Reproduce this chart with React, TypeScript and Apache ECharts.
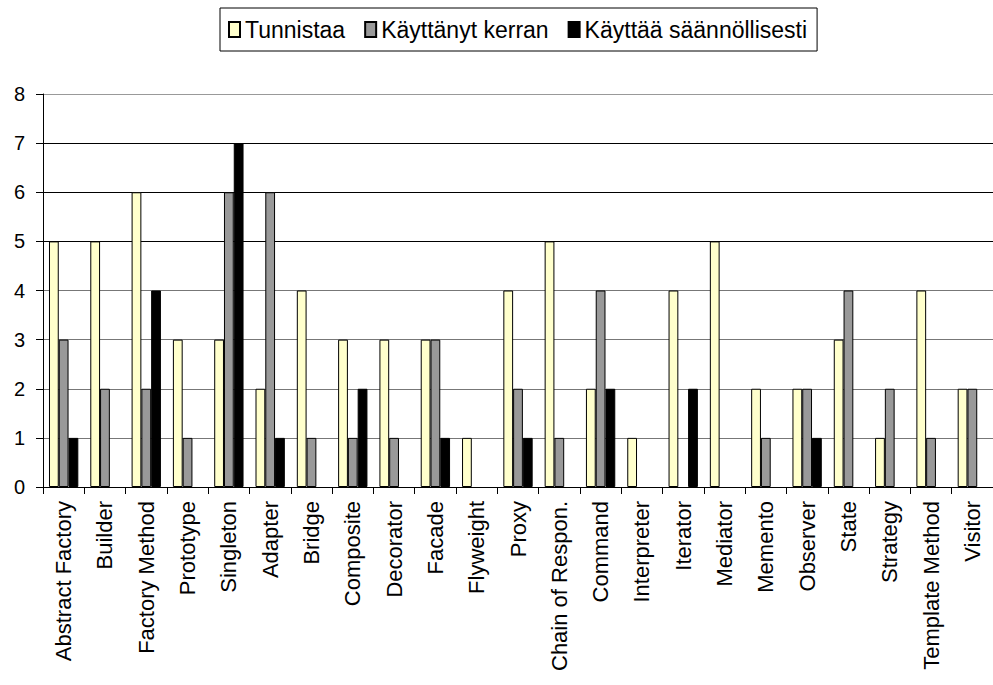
import React, { useEffect, useRef } from "react";
import * as echarts from "echarts";

const categories = [
  "Abstract Factory", "Builder", "Factory Method", "Prototype", "Singleton",
  "Adapter", "Bridge", "Composite", "Decorator", "Facade", "Flyweight",
  "Proxy", "Chain of Respon.", "Command", "Interpreter", "Iterator",
  "Mediator", "Memento", "Observer", "State", "Strategy", "Template Method", "Visitor",
];
const tunnistaa = [5, 5, 6, 3, 3, 2, 4, 3, 3, 3, 1, 4, 5, 2, 1, 4, 5, 2, 2, 3, 1, 4, 2];
const kayttanytKerran = [3, 2, 2, 1, 6, 6, 1, 1, 1, 3, 0, 2, 1, 4, 0, 0, 0, 1, 2, 4, 2, 1, 2];
const kayttaaSaannollisesti = [1, 0, 4, 0, 7, 1, 0, 2, 0, 1, 0, 1, 0, 2, 0, 2, 0, 0, 1, 0, 0, 0, 0];
const yTicks = [0, 8, 1];

const FONT = "'Liberation Sans', Arial, sans-serif";

export default function App() {
  const ref = useRef<HTMLDivElement>(null);
  useEffect(() => {
    if (!ref.current) return;
    const chart = echarts.init(ref.current, null, { renderer: "svg" });
    const mk = (name: string, data: number[], color: string) => ({
      name,
      type: "bar",
      data: data.map((v) => (v === 0 ? null : v)),
      barGap: "0%",
      barCategoryGap: "29%",
      itemStyle: { color, borderColor: "#000", borderWidth: 1 },
    });
    chart.setOption({
      animation: false,
      backgroundColor: "#fff",
      legend: {
        left: 220,
        top: 8,
        padding: [10, 10, 10, 8],
        borderColor: "#000",
        borderWidth: 1,
        itemWidth: 11,
        itemHeight: 15,
        itemGap: 19,
        icon: "rect",
        textStyle: { fontFamily: FONT, fontSize: 23, color: "#000" },
      },
      grid: { left: 43, right: 0, top: 94, bottom: 198, containLabel: false },
      xAxis: {
        type: "category",
        data: categories,
        axisLine: { lineStyle: { color: "#000", width: 1 } },
        axisTick: { show: true, length: 7, lineStyle: { color: "#000" } },
        axisLabel: {
          rotate: 90,
          interval: 0,
          margin: 14,
          fontFamily: FONT,
          fontSize: 22,
          color: "#000",
        },
      },
      yAxis: {
        type: "value",
        min: yTicks[0],
        max: yTicks[1],
        interval: yTicks[2],
        axisLine: { show: true, lineStyle: { color: "#000", width: 1 } },
        axisTick: { show: true, length: 7, lineStyle: { color: "#000" } },
        axisLabel: { margin: 18, fontFamily: FONT, fontSize: 20, color: "#000" },
        splitLine: {
          show: true,
          lineStyle: {
            width: 1,
            color: ["#000", "#777", "#777", "#777", "#777", "#000", "#000", "#000", "#999"],
          },
        },
      },
      series: [
        mk("Tunnistaa", tunnistaa, "#FFFFCC"),
        mk("Käyttänyt kerran", kayttanytKerran, "#999999"),
        mk("Käyttää säännöllisesti", kayttaaSaannollisesti, "#000000"),
      ],
    });
    return () => chart.dispose();
  }, []);
  return (
    <div
      ref={ref}
      style={{ position: "fixed", left: 0, top: 0, width: 993, height: 685, background: "#fff" }}
    />
  );
}
